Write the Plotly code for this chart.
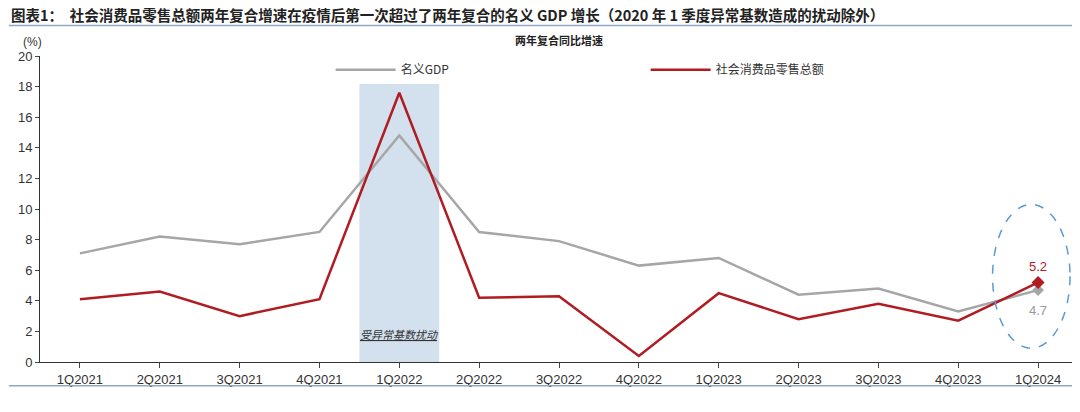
import plotly.graph_objects as go

cats = ["1Q2021","2Q2021","3Q2021","4Q2021","1Q2022","2Q2022","3Q2022","4Q2022","1Q2023","2Q2023","3Q2023","4Q2023","1Q2024"]
gdp = [7.1, 8.2, 7.7, 8.5, 14.8, 8.5, 7.9, 6.3, 6.8, 4.4, 4.8, 3.3, 4.7]
retail = [4.1, 4.6, 3.0, 4.1, 17.6, 4.2, 4.3, 0.4, 4.5, 2.8, 3.8, 2.7, 5.2]
xs = list(range(len(cats)))
F = "Noto Sans CJK SC"
fig = go.Figure()
fig.add_shape(type="rect", x0=3.5, x1=4.5, y0=0, y1=18.3, fillcolor="#d3e1ef", line_width=0, layer="below")
fig.add_trace(go.Scatter(x=xs, y=gdp, mode="lines", name="名义GDP", line=dict(color="#a6a6a6", width=2.5)))
fig.add_trace(go.Scatter(x=xs, y=retail, mode="lines", name="社会消费品零售总额", line=dict(color="#b01c22", width=2.5)))
fig.add_trace(go.Scatter(x=[xs[-1]], y=[gdp[-1]], mode="markers", showlegend=False, marker=dict(symbol="diamond", size=9, color="#a6a6a6")))
fig.add_trace(go.Scatter(x=[xs[-1]], y=[retail[-1]], mode="markers", showlegend=False, marker=dict(symbol="diamond", size=10, color="#b01c22")))
fig.add_shape(type="circle", x0=11.43, x1=12.4, y0=0.9, y1=10.3, line=dict(color="#5b9bd5", width=1.5, dash="dash"))
fig.add_annotation(x=12, y=retail[-1], text="5.2", showarrow=False, yshift=16, font=dict(color="#b01c22", size=13, family="Arial"))
fig.add_annotation(x=12, y=gdp[-1], text="4.7", showarrow=False, yshift=-20, font=dict(color="#999999", size=13, family="Arial"))
fig.add_annotation(x=4, y=1.8, text="<i><u>受异常基数扰动</u></i>", showarrow=False, font=dict(size=11, family=F, color="#333"))
fig.add_annotation(xref="paper", yref="paper", x=0.5, y=1.052, yanchor="middle", text="<b>两年复合同比增速</b>", showarrow=False, font=dict(size=11, family=F, color="#222"))
fig.add_annotation(xref="paper", yref="paper", x=-0.018, y=1.046, yanchor="middle", text="(%)", showarrow=False, font=dict(size=12, family="Arial", color="#333"))
fig.add_annotation(xref="paper", yref="paper", x=-0.03, y=1.136, xanchor="left", yanchor="middle", text="<b>图表1：  社会消费品零售总额两年复合增速在疫情后第一次超过了两年复合的名义 GDP 增长（2020 年 1 季度异常基数造成的扰动除外）</b>", showarrow=False, font=dict(size=14.5, family=F, color="#222"))
fig.add_shape(type="line", xref="paper", yref="paper", x0=-0.03, x1=1.01, y0=1.1, y1=1.1, line=dict(color="#8fa8c8", width=1.5))
fig.add_shape(type="line", xref="paper", yref="paper", x0=-0.03, x1=1.01, y0=-0.078, y1=-0.078, line=dict(color="#8fa8c8", width=1.5))
fig.update_layout(width=1080, height=412, margin=dict(l=32, r=10, t=48, b=58), plot_bgcolor="white", paper_bgcolor="white",
    legend=dict(orientation="h", x=0.28, y=0.955, yanchor="middle", font=dict(size=12, family=F, color="#333"), itemwidth=60, entrywidth=240),
    font=dict(family="Arial"))
fig.update_xaxes(tickmode="array", tickvals=xs, ticktext=cats, range=[-0.5, 12.5], showgrid=False, showline=True, linecolor="#333",
    ticks="outside", ticklen=5, tickfont=dict(size=13, color="#333"))
fig.update_yaxes(range=[0, 20], dtick=2, showgrid=False, showline=True, linecolor="#333", ticks="outside", ticklen=4, tickfont=dict(size=13, color="#333"))
fig.write_html("out.html")
